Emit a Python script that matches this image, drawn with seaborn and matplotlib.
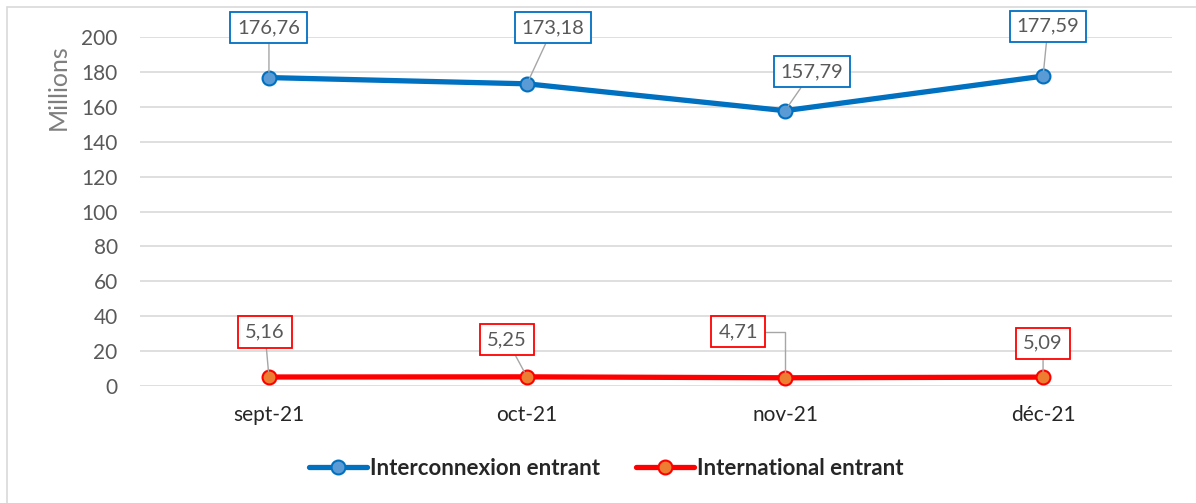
import pandas as pd
import seaborn as sns
import matplotlib.pyplot as plt
from matplotlib.patches import Rectangle

months = ["sept-21", "oct-21", "nov-21", "déc-21"]
interconnexion = [176.76, 173.18, 157.79, 177.59]
international = [5.16, 5.25, 4.71, 5.09]
series_names = ["Interconnexion entrant", "International entrant"]

df = pd.DataFrame({
    "pos": list(range(len(months))) * 2,
    "value": interconnexion + international,
    "serie": [series_names[0]] * len(months) + [series_names[1]] * len(months),
})

sns.set_theme(style="white")
plt.rcParams["font.family"] = ["Lato", "DejaVu Sans"]

fig = plt.figure(figsize=(11.96, 5.03), dpi=100)
ax = fig.add_axes([0.117, 0.2326, 0.863, 0.6938])

# light frame around the chart
fig.patches.append(Rectangle((7 / 1196, -0.1), 1.2, (503 - 7) / 503 + 0.1,
                             transform=fig.transFigure, fill=False,
                             edgecolor="#D9D9D9", lw=1.2))

line_col = {series_names[0]: "#0070C0", series_names[1]: "#FF0000"}
face_col = {series_names[0]: "#5B9BD5", series_names[1]: "#ED7D31"}

for name in series_names:
    sub = df[df["serie"] == name]
    sns.lineplot(data=sub, x="pos", y="value", ax=ax, color=line_col[name],
                 lw=3.8, marker="o", markersize=10, markerfacecolor=face_col[name],
                 markeredgecolor=line_col[name], markeredgewidth=1.5,
                 label=name, zorder=3)

ax.set_xlim(-0.5, 3.5)
ax.set_ylim(0, 200)
ax.set_yticks(range(0, 201, 20))
ax.set_xticks(range(len(months)))
ax.set_xticklabels(months)
ax.grid(axis="y", color="#D9D9D9", lw=1.2)
ax.set_axisbelow(True)
for s in ax.spines.values():
    s.set_visible(False)
ax.tick_params(axis="both", length=0, labelsize=15, colors="#595959")
ax.tick_params(axis="x", pad=14, labelcolor="#262626")
ax.tick_params(axis="y", pad=16)
ax.set_xlabel("")
ax.set_ylabel("Millions", fontsize=18, color="#7F7F7F")
ax.yaxis.set_label_coords(-0.068, 0.857)

# data labels (offsets in pixels)
offs_blue = [(0, 50), (26, 56), (27, 39), (5, 50)]
offs_red = [(-4, 45), (-20, 37), (-47, 46), (0, 34)]
for vals, offs, name in [(interconnexion, offs_blue, series_names[0]),
                         (international, offs_red, series_names[1])]:
    for i, (v, o) in enumerate(zip(vals, offs)):
        txt = f"{v:.2f}".replace(".", ",")
        cs = "angle,angleA=0,angleB=90,rad=0" if o[0] < -30 else "arc3"
        ax.annotate(txt, (i, v), xytext=o, textcoords="offset pixels",
                    ha="center", va="center", fontsize=14.5, color="#595959",
                    bbox=dict(boxstyle="square,pad=0.35", fc="white",
                              ec=line_col[name], lw=1.3),
                    arrowprops=dict(arrowstyle="-", color="#A6A6A6", lw=1,
                                    shrinkA=0, shrinkB=4, connectionstyle=cs),
                    zorder=4)

leg = ax.legend(loc="center", bbox_to_anchor=(0.452, -0.235), ncol=2,
                frameon=False, handlelength=2.6, columnspacing=1.6,
                handletextpad=0.15, prop={"weight": "bold", "size": 16})
for t in leg.get_texts():
    t.set_color("#262626")

fig.savefig("out.png", dpi=100)
